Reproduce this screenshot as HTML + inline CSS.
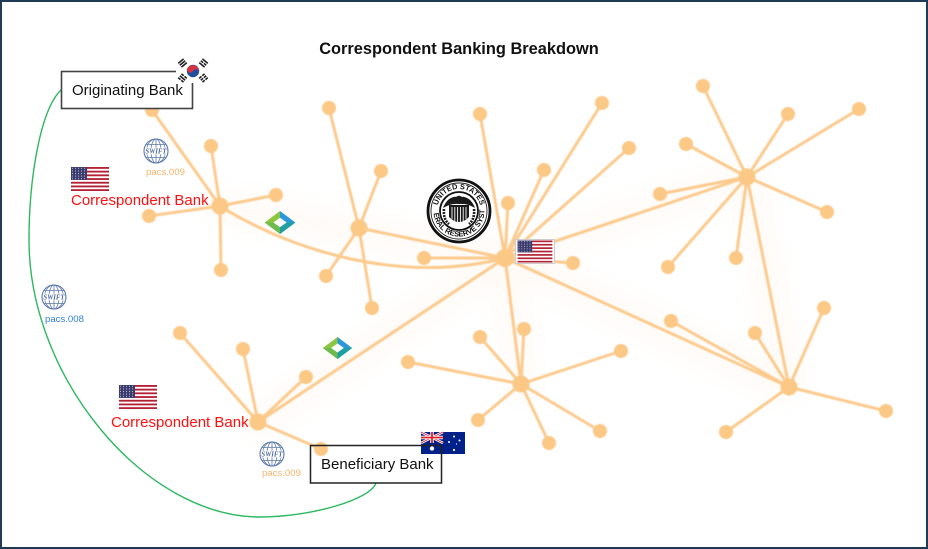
<!DOCTYPE html>
<html><head><meta charset="utf-8"><style>
html,body{margin:0;padding:0;background:#fff;}
#f{position:relative;width:928px;height:549px;box-sizing:border-box;border:2px solid #1e3a56;overflow:hidden;background:#fff;}
svg{position:absolute;left:-2px;top:-2px;}
</style></head><body><div id="f">
<svg width="928" height="549" viewBox="0 0 928 549" xmlns="http://www.w3.org/2000/svg">
<defs>
<filter id="soft" x="-5%" y="-5%" width="110%" height="110%"><feGaussianBlur stdDeviation="0.6"/></filter>
<filter id="glow" x="-20%" y="-20%" width="140%" height="140%"><feGaussianBlur stdDeviation="12"/></filter>
<pattern id="stars" width="3" height="2.6" patternUnits="userSpaceOnUse"><rect width="3" height="2.6" fill="#3c3b6e"/><circle cx="1.5" cy="1.3" r="0.55" fill="#c8cbe0"/></pattern>
<symbol id="us" viewBox="0 0 38 24">
<rect width="38" height="24" fill="#fff"/>
<rect y="0" width="38" height="1.85" fill="#b22234"/><rect y="3.7" width="38" height="1.85" fill="#b22234"/><rect y="7.4" width="38" height="1.85" fill="#b22234"/><rect y="11.1" width="38" height="1.85" fill="#b22234"/><rect y="14.8" width="38" height="1.85" fill="#b22234"/><rect y="18.5" width="38" height="1.85" fill="#b22234"/><rect y="22.2" width="38" height="1.8" fill="#b22234"/>
<rect width="16" height="13" fill="url(#stars)"/>
</symbol>
<symbol id="swift" viewBox="-13 -13 26 26">
<circle r="12" fill="#fff" stroke="#5b78ad" stroke-width="1.1"/>
<ellipse rx="5" ry="12" fill="none" stroke="#5b78ad" stroke-width="0.8"/>
<ellipse rx="9.5" ry="12" fill="none" stroke="#5b78ad" stroke-width="0.7"/>
<line x1="0" y1="-12" x2="0" y2="12" stroke="#5b78ad" stroke-width="0.8"/>
<line x1="-10" y1="-6.5" x2="10" y2="-6.5" stroke="#5b78ad" stroke-width="0.8"/>
<line x1="-10" y1="6.5" x2="10" y2="6.5" stroke="#5b78ad" stroke-width="0.8"/>
<rect x="-11" y="-3.3" width="22" height="6.6" fill="#fff"/>
<text x="0" y="2.4" text-anchor="middle" font-family="Liberation Serif,serif" font-style="italic" font-weight="bold" font-size="6.8" fill="#4a67a0">SWIFT</text>
</symbol>
<symbol id="logo" viewBox="-16 -12 32 24">
<polygon points="0,-12 -16,0 0,12 0,5 -7,0 0,-5" fill="#8cc63f"/>
<polygon points="-16,0 0,12 0,5 -7,0" fill="#6dbb4f"/>
<polygon points="0,-12 16,0 0,12 0,5 7,0 0,-5" fill="#2b98d8"/>
<polygon points="16,0 0,12 0,5 7,0" fill="#1f9fa0"/>
</symbol>
</defs>

<!-- faint glow -->
<g filter="url(#glow)" stroke="#fdf0e2" stroke-width="26" stroke-linecap="round" opacity="0.35" fill="none">
<path d="M220,206 L505,258 L747,177 M505,258 L789,387 M505,258 L258,422 M505,258 L521,384 M747,177 L789,387"/>
</g>

<!-- network -->
<g filter="url(#soft)" stroke="#fdca8e" stroke-width="3" stroke-linecap="round" fill="none">
<path d="M220,206 L152,110 M220,206 L211,146 M220,206 L276,195 M220,206 L149,216 M220,206 L221,270"/>
<path d="M220,206 C290,250 400,285 505,258"/>
<path d="M359,228 L329,108 M359,228 L381,171 M359,228 L326,276 M359,228 L372,308 M359,228 L505,258"/>
<path d="M505,258 L480,114 M505,258 L508,203 M505,258 L424,258 M505,258 L602,103 M505,258 L629,148 M505,258 L544,170 M505,258 L573,263"/>
<path d="M505,258 L747,177 M505,258 L521,384 M505,258 L789,387 M505,258 L258,422"/>
<path d="M747,177 L703,86 M747,177 L788,114 M747,177 L859,109 M747,177 L686,144 M747,177 L660,194 M747,177 L827,212 M747,177 L736,258 M747,177 L668,267 M747,177 L789,387"/>
<path d="M521,384 L480,337 M521,384 L524,329 M521,384 L408,362 M521,384 L621,351 M521,384 L478,420 M521,384 L549,443 M521,384 L600,431"/>
<path d="M789,387 L671,321 M789,387 L755,333 M789,387 L824,308 M789,387 L886,411 M789,387 L726,432"/>
<path d="M258,422 L180,333 M258,422 L243,349 M258,422 L306,377 M258,422 L321,449"/>
</g>
<g filter="url(#soft)" fill="#fcc885">
<circle cx="220" cy="206" r="8.5"/><circle cx="359" cy="228" r="8.5"/><circle cx="505" cy="258" r="9"/><circle cx="747" cy="177" r="8.5"/><circle cx="521" cy="384" r="8.5"/><circle cx="789" cy="387" r="8.5"/><circle cx="258" cy="422" r="8.5"/>
<circle cx="152" cy="110" r="7"/><circle cx="211" cy="146" r="7"/><circle cx="276" cy="195" r="7"/><circle cx="149" cy="216" r="7"/><circle cx="221" cy="270" r="7"/>
<circle cx="329" cy="108" r="7"/><circle cx="381" cy="171" r="7"/><circle cx="326" cy="276" r="7"/><circle cx="372" cy="308" r="7"/>
<circle cx="480" cy="114" r="7"/><circle cx="508" cy="203" r="7"/><circle cx="424" cy="258" r="7"/><circle cx="602" cy="103" r="7"/><circle cx="629" cy="148" r="7"/><circle cx="544" cy="170" r="7"/><circle cx="573" cy="263" r="7"/>
<circle cx="703" cy="86" r="7"/><circle cx="788" cy="114" r="7"/><circle cx="859" cy="109" r="7"/><circle cx="686" cy="144" r="7"/><circle cx="660" cy="194" r="7"/><circle cx="827" cy="212" r="7"/><circle cx="736" cy="258" r="7"/><circle cx="668" cy="267" r="7"/>
<circle cx="480" cy="337" r="7"/><circle cx="524" cy="329" r="7"/><circle cx="408" cy="362" r="7"/><circle cx="621" cy="351" r="7"/><circle cx="478" cy="420" r="7"/><circle cx="549" cy="443" r="7"/><circle cx="600" cy="431" r="7"/>
<circle cx="671" cy="321" r="7"/><circle cx="755" cy="333" r="7"/><circle cx="824" cy="308" r="7"/><circle cx="886" cy="411" r="7"/><circle cx="726" cy="432" r="7"/>
<circle cx="180" cy="333" r="7"/><circle cx="243" cy="349" r="7"/><circle cx="306" cy="377" r="7"/><circle cx="321" cy="449" r="7"/>
</g>

<!-- title -->
<text x="459" y="54" text-anchor="middle" font-family="Liberation Sans,Arial,sans-serif" font-weight="bold" font-size="16.4" fill="#111">Correspondent Banking Breakdown</text>

<!-- green curve -->
<path d="M61,90 C40,110 29,180 29,240 C29,378 145,517 260,517 C310,517 370,500 376,483" fill="none" stroke="#2db85f" stroke-width="1.4"/>

<!-- Originating Bank box -->
<rect x="61.5" y="71.5" width="131" height="37" fill="#fff" stroke="#444" stroke-width="1.6"/>
<text x="72" y="95" font-family="Liberation Sans,Arial,sans-serif" font-size="15" fill="#111">Originating Bank</text>

<!-- Korean flag -->
<g>
<rect x="176" y="58" width="34" height="25" fill="#fff"/>
<circle cx="193" cy="71" r="6.2" fill="#1f4fa0"/>
<path d="M187.3,68.6 A6.2,6.2 0 0 1 198.7,73.4 A3.1,3.1 0 0 0 193,71 A3.1,3.1 0 0 1 187.3,68.6 Z" fill="#d5323f"/>
<g fill="#222">
<g transform="translate(182.5,63) rotate(-40)"><rect x="-3.5" y="-3.3" width="7" height="1.6"/><rect x="-3.5" y="-0.8" width="7" height="1.6"/><rect x="-3.5" y="1.7" width="7" height="1.6"/></g>
<g transform="translate(203.5,63) rotate(40)"><rect x="-3.5" y="-3.3" width="7" height="1.6"/><rect x="-3.5" y="-0.8" width="3" height="1.6"/><rect x="0.5" y="-0.8" width="3" height="1.6"/><rect x="-3.5" y="1.7" width="7" height="1.6"/></g>
<g transform="translate(182.5,78) rotate(40)"><rect x="-3.5" y="-3.3" width="3" height="1.6"/><rect x="0.5" y="-3.3" width="3" height="1.6"/><rect x="-3.5" y="-0.8" width="7" height="1.6"/><rect x="-3.5" y="1.7" width="3" height="1.6"/><rect x="0.5" y="1.7" width="3" height="1.6"/></g>
<g transform="translate(203.5,78) rotate(-40)"><rect x="-3.5" y="-3.3" width="3" height="1.6"/><rect x="0.5" y="-3.3" width="3" height="1.6"/><rect x="-3.5" y="-0.8" width="3" height="1.6"/><rect x="0.5" y="-0.8" width="3" height="1.6"/><rect x="-3.5" y="1.7" width="3" height="1.6"/><rect x="0.5" y="1.7" width="3" height="1.6"/></g>
</g>
</g>

<!-- SWIFT icons + labels -->
<use href="#swift" x="143" y="138" width="26" height="26"/>
<text x="146" y="175" font-family="Liberation Sans,Arial,sans-serif" font-size="9.6" fill="#f6b46c">pacs.009</text>
<use href="#swift" x="41" y="284" width="26" height="26"/>
<text x="45" y="322" font-family="Liberation Sans,Arial,sans-serif" font-size="9.6" fill="#2f7fd8">pacs.008</text>
<use href="#swift" x="259" y="441" width="26" height="26"/>
<text x="262" y="476" font-family="Liberation Sans,Arial,sans-serif" font-size="9.6" fill="#f6b46c">pacs.009</text>

<!-- US flags -->
<use href="#us" x="71" y="167" width="38" height="24"/>
<text x="71" y="205" font-family="Liberation Sans,Arial,sans-serif" font-size="15" fill="#ff1010">Correspondent Bank</text>
<use href="#us" x="119" y="385" width="38" height="24"/>
<text x="111" y="427" font-family="Liberation Sans,Arial,sans-serif" font-size="15" fill="#ff1010">Correspondent Bank</text>
<rect x="515.5" y="239.5" width="39" height="24" fill="#fff" stroke="#ccc" stroke-width="1"/>
<use href="#us" x="516.5" y="240.5" width="37" height="22" preserveAspectRatio="none"/>

<!-- logos -->
<use href="#logo" x="264" y="211" width="32" height="23"/>
<use href="#logo" x="322" y="337" width="31" height="22"/>

<!-- Fed seal -->
<g transform="translate(459,211)">
<circle r="31" fill="#fff" stroke="#111" stroke-width="2.8"/>
<circle r="28" fill="none" stroke="#222" stroke-width="0.9"/>
<defs><path id="arcT" d="M-22,0 A22,22 0 0 1 22,0"/><path id="arcB" d="M-25.5,0 A25.5,25.5 0 0 0 25.5,0"/></defs>
<text font-family="Liberation Sans,sans-serif" font-weight="bold" font-size="7.4" fill="#111"><textPath href="#arcT" startOffset="50%" text-anchor="middle">UNITED STATES</textPath></text>
<text font-family="Liberation Sans,sans-serif" font-weight="bold" font-size="7.4" fill="#111"><textPath href="#arcB" startOffset="50%" text-anchor="middle">FEDERAL RESERVE SYSTEM</textPath></text>
<circle r="19" fill="#fff" stroke="#111" stroke-width="1.8"/>
<path d="M-16,-3 Q-11,-16 0,-14 Q11,-16 16,-3 Q8,-8 0,-7 Q-8,-8 -16,-3 Z" fill="#1a1a1a"/>
<circle cx="0" cy="-12" r="3.3" fill="#1a1a1a"/>
<path d="M-10,-6 L10,-6 L10,6 Q0,16 -10,6 Z" fill="#1a1a1a"/>
<g stroke="#fff" stroke-width="0.9"><line x1="-7" y1="-4" x2="-7" y2="8"/><line x1="-4.2" y1="-4" x2="-4.2" y2="10"/><line x1="-1.4" y1="-4" x2="-1.4" y2="12"/><line x1="1.4" y1="-4" x2="1.4" y2="12"/><line x1="4.2" y1="-4" x2="4.2" y2="10"/><line x1="7" y1="-4" x2="7" y2="8"/></g>
<path d="M-15,-2 Q-16,8 -10,13 M15,-2 Q16,8 10,13" stroke="#1a1a1a" stroke-width="2.6" fill="none" stroke-dasharray="2 1"/>
</g>

<!-- Australian flag -->
<g transform="translate(421,432)">
<rect width="44" height="22" fill="#01218a"/>
<g>
<path d="M0,0 L22,11 M22,0 L0,11" stroke="#fff" stroke-width="2.4"/>
<path d="M0,0 L22,11 M22,0 L0,11" stroke="#e4252f" stroke-width="0.9"/>
<path d="M11,0 V11 M0,5.5 H22" stroke="#fff" stroke-width="3.4"/>
<path d="M11,0 V11 M0,5.5 H22" stroke="#e4252f" stroke-width="1.8"/>
</g>
<circle cx="11" cy="16.5" r="2.2" fill="#fff"/>
<circle cx="33" cy="4.5" r="1" fill="#fff"/><circle cx="28" cy="10" r="1" fill="#fff"/><circle cx="38.5" cy="8.5" r="1" fill="#fff"/><circle cx="33" cy="18" r="1.1" fill="#fff"/><circle cx="35.5" cy="12" r="0.6" fill="#fff"/>
</g>

<!-- Beneficiary Bank box -->
<rect x="310.5" y="445.5" width="131" height="37.5" fill="none" stroke="#222" stroke-width="1.5"/>
<text x="321" y="469" font-family="Liberation Sans,Arial,sans-serif" font-size="15" fill="#111">Beneficiary Bank</text>
</svg>
</div></body></html>
